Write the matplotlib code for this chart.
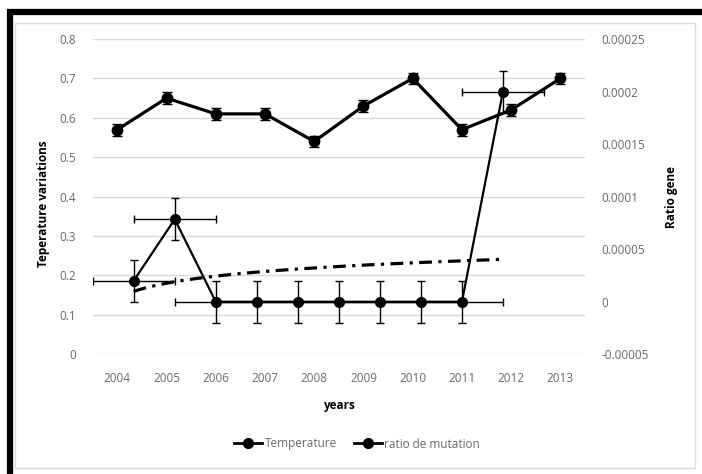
import numpy as np
import matplotlib.pyplot as plt
from matplotlib.patches import Rectangle
from matplotlib.lines import Line2D

plt.rcParams['font.family'] = ['Open Sans', 'DejaVu Sans']

years = ['2004', '2005', '2006', '2007', '2008', '2009', '2010', '2011', '2012', '2013']
temperature = [0.57, 0.65, 0.61, 0.61, 0.54, 0.63, 0.70, 0.57, 0.62, 0.70]
temperature_err = 0.015

# mutation ratio sits on its own (hidden) horizontal value axis
mutation_x = [1, 2, 3, 4, 5, 6, 7, 8, 9, 10]
mutation = [0.00002, 0.0000785, 0, 0, 0, 0, 0, 0, 0, 0.0002]
mutation_xerr = 1
mutation_yerr = 0.00002

W, H = 702, 474
GREY = '#6a6a6a'
GRID = '#d9d9d9'


def box(x0, y0, x1, y1):
    # pixel box (top-left origin) -> figure fraction rect
    return [x0 / W, 1 - y1 / H, (x1 - x0) / W, (y1 - y0) / H]


fig = plt.figure(figsize=(W / 100, H / 100), dpi=100)

# frame: thick black outline + thin grey chart-area border
fig.add_artist(Rectangle((9.5 / W, 1 - 480 / H), 720 / W, (480 - 12) / H,
                         transform=fig.transFigure, fill=False, ec='black',
                         lw=4.5, clip_on=False))
fig.add_artist(Rectangle((15 / W, 1 - 468 / H), 680 / W, 445 / H,
                         transform=fig.transFigure, fill=False, ec=GRID,
                         lw=1, clip_on=False))

ax = fig.add_axes(box(92.7, 39, 585, 354.3))
x = np.arange(len(years))
ax.set_xlim(-0.5, len(years) - 0.5)
ax.set_ylim(0, 0.8)
ax.set_xticks(x)
ax.set_xticklabels(years)
yt = np.round(np.arange(0, 0.81, 0.1), 1)
ax.set_yticks(yt)
ax.set_yticklabels(['{:g}'.format(v) for v in yt])
ax.yaxis.grid(True, color=GRID, lw=1)
ax.set_axisbelow(True)
for s in ax.spines.values():
    s.set_visible(False)
ax.tick_params(length=0, labelsize=8.5, labelcolor=GREY)
ax.tick_params(axis='x', pad=13)
ax.tick_params(axis='y', pad=12)

ax.errorbar(x, temperature, yerr=temperature_err, color='black', lw=2.3,
            marker='o', ms=7.5, capsize=3.5, elinewidth=1, capthick=1, zorder=3)

ax2 = ax.twinx()
ax2.set_ylim(-0.00005, 0.00025)
rt = np.round(np.arange(-0.00005, 0.00026, 0.00005), 6)
ax2.set_yticks(rt)
ax2.set_yticklabels(['{:.5f}'.format(v).rstrip('0').rstrip('.') if v != 0 else '0'
                     for v in rt])
for s in ax2.spines.values():
    s.set_visible(False)
ax2.tick_params(length=0, labelsize=8.5, labelcolor=GREY, pad=12)

ax3 = ax2.twiny()
ax3.set_xlim(0, 12)
ax3.set_xticks([])
for s in ax3.spines.values():
    s.set_visible(False)

ax3.errorbar(mutation_x, mutation, xerr=mutation_xerr, yerr=mutation_yerr,
             color='black', lw=1.6, marker='o', ms=7, capsize=3,
             elinewidth=1, capthick=1)

# logarithmic trend of the mutation ratio
fit = np.polyfit(np.log(mutation_x), mutation, 1)
xs = np.linspace(mutation_x[0], mutation_x[-1], 200)
ax3.plot(xs, np.polyval(fit, np.log(xs)), color='black', lw=2.3,
         ls=(0, (4, 2, 1, 2)), dash_capstyle='butt')

fig.text(43 / W, 1 - 204 / H, 'Teperature variations', rotation=90,
         ha='center', va='center', fontsize=8.5, fontweight='bold')
fig.text(672 / W, 1 - 197 / H, 'Ratio gene', rotation=90,
         ha='center', va='center', fontsize=8.5, fontweight='bold')
fig.text(339 / W, 1 - 405 / H, 'years', ha='center', va='center',
         fontsize=8.5, fontweight='bold')

handles = [Line2D([], [], color='black', lw=2, marker='o', ms=7),
           Line2D([], [], color='black', lw=2, marker='o', ms=7)]
leg = fig.legend(handles, ['Temperature', 'ratio de mutation'], loc='center',
                 bbox_to_anchor=(357 / W, 1 - 444 / H), ncol=2, frameon=False,
                 fontsize=8.5, handlelength=2.4, handletextpad=0.2,
                 columnspacing=1.4)
for t in leg.get_texts():
    t.set_color(GREY)

fig.savefig('out.png', dpi=100)
